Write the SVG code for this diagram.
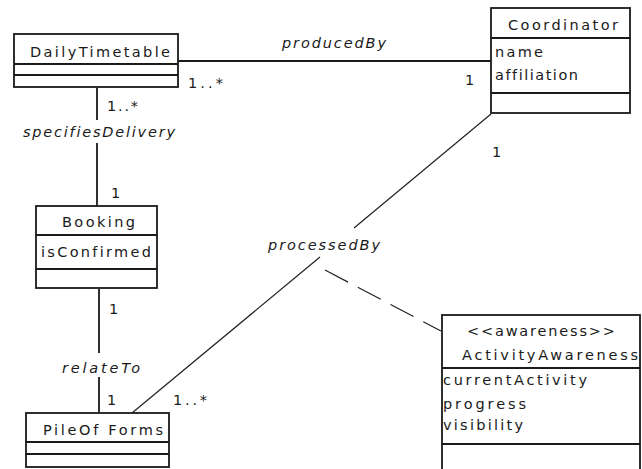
<svg xmlns="http://www.w3.org/2000/svg" width="642" height="469" viewBox="0 0 642 469">
<style>
.box{fill:#fff;stroke:#1a1a1a;stroke-width:1.8}
.div{stroke:#1a1a1a;stroke-width:1.8}
text{font-family:"DejaVu Sans",Verdana,sans-serif;font-size:14.5px;fill:#1a1a1a;font-variant-ligatures:none}
.i{font-style:italic}
.ln{stroke:#1a1a1a;stroke-width:1.8;fill:none}
.dg{stroke:#222;stroke-width:1.2;fill:none}
</style>
<rect width="642" height="469" fill="#fff"/>
<g id="connectors">
<line class="ln" x1="178" y1="61" x2="491" y2="61"/>
<line class="ln" x1="97" y1="88" x2="97" y2="120"/>
<line class="ln" x1="97" y1="143" x2="97" y2="206"/>
<line class="ln" x1="99" y1="289" x2="99" y2="353"/>
<line class="ln" x1="99" y1="377" x2="99" y2="413"/>
<line class="dg" x1="132" y1="413" x2="320" y2="257"/>
<line class="dg" x1="354" y1="228" x2="491" y2="114"/>
<line class="dg" x1="325" y1="270" x2="441" y2="331" stroke-dasharray="26 11"/>
<text class="i" x="282" y="48" textLength="104" lengthAdjust="spacing">producedBy</text>
<text x="188" y="88" textLength="35" lengthAdjust="spacing">1..*</text>
<text x="465" y="85">1</text>
<text x="107" y="111" textLength="31" lengthAdjust="spacing">1..*</text>
<text class="i" x="23" y="137" textLength="152" lengthAdjust="spacing">specifiesDelivery</text>
<text x="111" y="198">1</text>
<text x="109" y="314">1</text>
<text class="i" x="62" y="373" textLength="78" lengthAdjust="spacing">relateTo</text>
<text x="107" y="405">1</text>
<text x="173" y="405" textLength="34" lengthAdjust="spacing">1..*</text>
<text x="492" y="157">1</text>
<text class="i" x="268" y="250" textLength="112" lengthAdjust="spacing">processedBy</text>
</g>
<g id="DailyTimetable">
<rect class="box" x="14" y="34" width="164" height="53"/>
<line class="div" x1="14" y1="64" x2="178" y2="64"/>
<line class="div" x1="14" y1="75" x2="178" y2="75"/>
<text x="30" y="57" textLength="140" lengthAdjust="spacing">DailyTimetable</text>
</g>
<g id="Coordinator">
<rect class="box" x="491" y="8" width="139" height="105"/>
<line class="div" x1="491" y1="38" x2="630" y2="38"/>
<line class="div" x1="491" y1="93" x2="630" y2="93"/>
<text x="508" y="30" textLength="110" lengthAdjust="spacing">Coordinator</text>
<text x="495" y="57" textLength="48" lengthAdjust="spacing">name</text>
<text x="495" y="80" textLength="83" lengthAdjust="spacing">affiliation</text>
</g>
<g id="Booking">
<rect class="box" x="36" y="206" width="121" height="82"/>
<line class="div" x1="36" y1="235" x2="157" y2="235"/>
<line class="div" x1="36" y1="269" x2="157" y2="269"/>
<text x="62" y="227" textLength="73" lengthAdjust="spacing">Booking</text>
<text x="41" y="257" textLength="110" lengthAdjust="spacing">isConfirmed</text>
</g>
<g id="PileOfForms">
<rect class="box" x="26" y="413" width="143" height="54"/>
<line class="div" x1="26" y1="442" x2="169" y2="442"/>
<line class="div" x1="26" y1="454" x2="169" y2="454"/>
<text x="43" y="435" textLength="120" lengthAdjust="spacing">PileOf Forms</text>
</g>
<g id="ActivityAwareness">
<rect class="box" x="442" y="315" width="198" height="160"/>
<line class="div" x1="442" y1="368" x2="640" y2="368"/>
<line class="div" x1="442" y1="444" x2="640" y2="444"/>
<text x="467" y="336" textLength="148" lengthAdjust="spacing">&lt;&lt;awareness&gt;&gt;</text>
<text x="462" y="360" textLength="176" lengthAdjust="spacing">ActivityAwareness</text>
<text x="443" y="385" textLength="144" lengthAdjust="spacing">currentActivity</text>
<text x="443" y="409" textLength="83" lengthAdjust="spacing">progress</text>
<text x="443" y="430" textLength="80" lengthAdjust="spacing">visibility</text>
</g>
</svg>
